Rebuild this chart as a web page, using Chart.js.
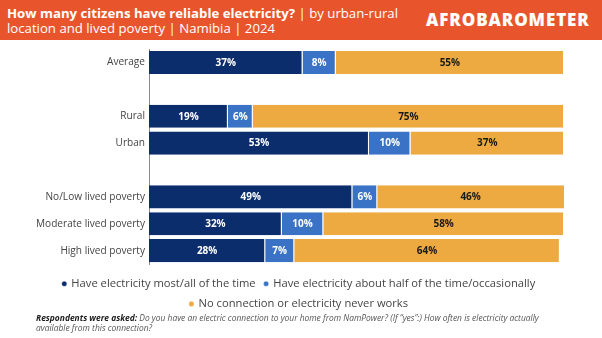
<!DOCTYPE html>
<html>
<head>
<meta charset="utf-8">
<script src="https://cdn.jsdelivr.net/npm/chart.js@4.4.1/dist/chart.umd.min.js"></script>
<style>
  html, body { margin: 0; padding: 0; background: #ffffff; }
  #wrap { position: relative; width: 602px; height: 338px; overflow: hidden; font-family: "Open Sans", sans-serif; }
  #chart { position: absolute; left: 0; top: 0; }
  #header { position: absolute; left: 0; top: 0; width: 602px; height: 40px; background: #E8552C; color: #ffffff; }
  #title { position: absolute; left: 7px; top: 6px; font-size: 13.2px; line-height: 15px; white-space: nowrap; }
  #title b { font-weight: 700; }
  #logo { position: absolute; left: 426px; top: 7.5px; font-size: 17px; line-height: 24px; font-weight: 800; letter-spacing: 0.9px; white-space: nowrap; }
  #note { position: absolute; left: 36px; top: 313px; width: 530px; font-size: 8.45px; line-height: 10px; color: #555; font-style: italic; }
  #note b { font-weight: 700; color: #1a1a1a; }
</style>
</head>
<body>
<div id="wrap">
  <canvas id="chart" width="602" height="338"></canvas>
  <div id="header">
    <div id="title"><b>How many citizens have reliable electricity?</b> | by urban-rural<br>location and lived poverty | Namibia | 2024</div>
    <div id="logo">AFROBAROMETER</div>
  </div>
  <div id="note"><b>Respondents were asked:</b> Do you have an electric connection to your home from NamPower? (If “yes”:) How often is electricity actually<br>available from this connection?</div>
</div>
<script>
// Row labels (empty strings are spacer rows between groups)
const categories = ['Average', '', 'Rural', 'Urban', '', 'No/Low lived poverty', 'Moderate lived poverty', 'High lived poverty'];
const seriesNames = ['Have electricity most/all of the time', 'Have electricity about half of the time/occasionally', 'No connection or electricity never works'];
const mostAll   = [37, null, 19, 53, null, 49, 32, 28];
const halfOcc   = [ 8, null,  6, 10, null,  6, 10,  7];
const noneNever = [55, null, 75, 37, null, 46, 58, 64];

const colors = ['#0B2D6C', '#3A73C5', '#ECAA41'];
const labelColors = ['#ffffff', '#ffffff', '#1a1a1a'];

// Writes each segment's value in its middle
const valueLabels = {
  id: 'valueLabels',
  afterDatasetsDraw(chart) {
    const ctx = chart.ctx;
    ctx.save();
    ctx.font = '700 10px "Open Sans", sans-serif';
    ctx.textAlign = 'center';
    ctx.textBaseline = 'middle';
    chart.data.datasets.forEach((ds, i) => {
      const meta = chart.getDatasetMeta(i);
      meta.data.forEach((el, j) => {
        const v = ds.data[j];
        if (v === null || v === undefined) return;
        const right = Math.min(el.x, chart.chartArea.right);
        ctx.fillStyle = labelColors[i];
        ctx.fillText(v + '%', (right + el.base) / 2, el.y + 0.5);
      });
    });
    ctx.restore();
  }
};

new Chart(document.getElementById('chart'), {
  type: 'bar',
  data: {
    labels: categories,
    datasets: [mostAll, halfOcc, noneNever].map((d, i) => ({
      label: seriesNames[i],
      data: d,
      backgroundColor: colors[i],
      borderColor: '#ffffff',
      borderWidth: { right: 1, top: 0, bottom: 0, left: 0 },
      borderSkipped: false,
      barPercentage: 0.86,
      categoryPercentage: 1.0
    }))
  },
  options: {
    indexAxis: 'y',
    responsive: false,
    animation: false,
    layout: { padding: { top: 49, right: 38, left: 34, bottom: 18.5 } },
    scales: {
      x: { stacked: true, display: false, min: 0, max: 100 },
      y: {
        stacked: true,
        grid: { display: false, drawTicks: false },
        border: { display: true, color: '#8a8a8a', width: 1 },
        ticks: { color: '#444444', padding: 4, font: { family: '"Open Sans", sans-serif', size: 10.1 } },
        afterFit(scale) { scale.width = 115; }
      }
    },
    plugins: {
      tooltip: { enabled: false },
      legend: {
        position: 'bottom',
        title: { display: true, text: '', padding: 0, font: { size: 5, lineHeight: 1 } },
        labels: {
          usePointStyle: true,
          pointStyle: 'circle',
          boxWidth: 3,
          boxHeight: 3.6,
          padding: 9,
          color: '#444444',
          font: { family: '"Open Sans", sans-serif', size: 11.2 }
        }
      }
    }
  },
  plugins: [valueLabels]
});
</script>
</body>
</html>
